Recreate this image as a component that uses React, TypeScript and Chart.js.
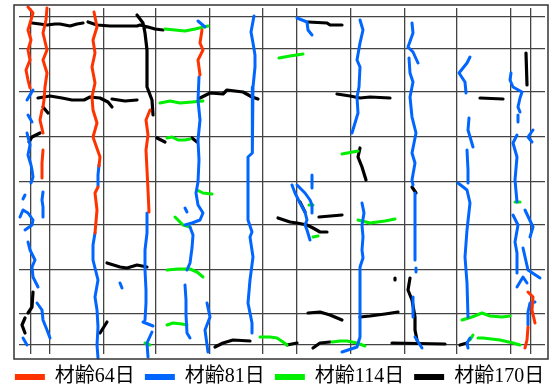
import React, { useEffect, useRef } from "react";
import { Chart, registerables } from "chart.js";

Chart.register(...registerables);

type P = [number, number];

const ages = ["材齢64日", "材齢81日", "材齢114日", "材齢170日"];
const colors = ["#ff3300", "#0066ff", "#00ee00", "#000000"];

const xGrid = [30.7, 50, 104, 156, 210, 263, 297, 351, 405, 457, 511, 531];
const yGrid = [17, 49, 92, 137, 182, 225, 270, 314, 345];

const redCracks: P[][] = [
  [[28, 7], [33, 13], [31, 20], [28, 30], [31, 40], [28, 50], [30, 60], [26, 70], [28, 80], [30, 88]],
  [[47, 8], [46, 20], [43, 33], [47, 50], [43, 60], [47, 73], [45, 87], [44, 100], [43, 107]],
  [[42, 110], [40, 120], [43, 133]],
  [[43, 150], [42, 163], [42, 178]],
  [[94, 12], [97, 27], [93, 40], [95, 53], [92, 67], [95, 83], [92, 97], [93, 110], [97, 123], [93, 137], [100, 157], [99, 166]],
  [[98, 187], [95, 193], [97, 210], [95, 233]],
  [[150, 110], [146, 120], [148, 135], [146, 150], [147, 170], [148, 190], [149, 212]],
  [[202, 30], [200, 43], [203, 50], [198, 60], [200, 75]],
  [[528, 292], [533, 297], [532, 310], [535, 323]],
  [[528, 327], [527, 340], [525, 348]],
];

const blueCracks: P[][] = [
  [[33, 90], [30, 95], [27, 100]],
  [[28, 115], [32, 122]],
  [[27, 133], [30, 145], [28, 155], [31, 165], [32, 170], [33, 177], [31, 183]],
  [[25, 195], [23, 199]],
  [[43, 192], [42, 200], [43, 207], [43, 217]],
  [[20, 217], [23, 210], [28, 213], [33, 220], [32, 225], [25, 230]],
  [[28, 242], [30, 250], [35, 260], [32, 267], [33, 277], [38, 287]],
  [[37, 303], [42, 310], [43, 320], [47, 330], [50, 338]],
  [[23, 338], [27, 345]],
  [[99, 165], [98, 175], [98, 186]],
  [[95, 233], [93, 245], [93, 260], [98, 280], [95, 297], [97, 310], [98, 327], [97, 345], [98, 358]],
  [[120, 283], [122, 288]],
  [[147, 213], [147, 223], [147, 233], [145, 250], [145, 270], [146, 290], [146, 303], [145, 320]],
  [[143, 322], [153, 326]],
  [[152, 332], [147, 343], [148, 357]],
  [[198, 21], [205, 27]],
  [[199, 77], [198, 100], [200, 120], [198, 140], [199, 160], [198, 182], [196, 193], [198, 205], [203, 213], [200, 220], [192, 223], [185, 225]],
  [[185, 208], [187, 212]],
  [[190, 227], [193, 235], [192, 248], [190, 263], [187, 270]],
  [[185, 285], [186, 300], [186, 315], [187, 333], [190, 338]],
  [[207, 303], [210, 317], [205, 330], [208, 352]],
  [[254, 16], [251, 32], [253, 43], [255, 55], [255, 67], [253, 87], [253, 100], [252, 127], [252, 153], [248, 157], [248, 180], [248, 220], [252, 232], [250, 237], [253, 257], [250, 280], [248, 303], [252, 323], [252, 333]],
  [[297, 18], [307, 22], [308, 30], [312, 35]],
  [[360, 20], [363, 30], [360, 43], [357, 60], [360, 67], [359, 87], [357, 97], [358, 113], [352, 133]],
  [[312, 175], [312, 188]],
  [[292, 185], [295, 193], [300, 203], [305, 212], [307, 220], [305, 225], [307, 230], [310, 240]],
  [[297, 185], [305, 193], [310, 200], [312, 205], [312, 213]],
  [[362, 203], [364, 213], [362, 225], [363, 237], [362, 250], [363, 258], [360, 267], [360, 303], [360, 337], [357, 347], [342, 352]],
  [[412, 23], [413, 33], [408, 47], [413, 52], [418, 63]],
  [[409, 58], [410, 73], [413, 82], [410, 97], [412, 117], [416, 133], [412, 153], [415, 163], [412, 180], [413, 185]],
  [[415, 193], [415, 220], [415, 260]],
  [[416, 268], [416, 272]],
  [[413, 297], [413, 317]],
  [[415, 337], [422, 348]],
  [[470, 57], [467, 63], [459, 73], [465, 82], [466, 93]],
  [[469, 118], [468, 130], [473, 147]],
  [[467, 150], [468, 170], [468, 183]],
  [[458, 183], [467, 190], [470, 203], [467, 230], [465, 257], [467, 283], [468, 317]],
  [[511, 73], [510, 80], [513, 87], [522, 92], [520, 98], [518, 107], [520, 112]],
  [[518, 115], [518, 122]],
  [[517, 135], [513, 143], [517, 157], [515, 180], [517, 202]],
  [[533, 130], [528, 137], [532, 142]],
  [[513, 215], [518, 225], [515, 242], [517, 253], [517, 273]],
  [[525, 210], [533, 227], [530, 237]],
  [[523, 248], [528, 270], [540, 278]],
  [[517, 287], [523, 277], [527, 283]],
  [[535, 302], [530, 303], [528, 312], [528, 325]],
  [[468, 348], [467, 343], [470, 338]],
];

const greenCracks: P[][] = [
  [[165, 29], [175, 30], [185, 31], [195, 29], [208, 26]],
  [[160, 103], [170, 101], [180, 103], [192, 102], [203, 101]],
  [[167, 138], [172, 137], [178, 140], [185, 140], [190, 139]],
  [[279, 58], [290, 56], [303, 54]],
  [[342, 154], [358, 151]],
  [[197, 190], [203, 193], [212, 194]],
  [[175, 217], [180, 222], [183, 225], [190, 227]],
  [[167, 270], [178, 269], [190, 269], [197, 272], [203, 277]],
  [[167, 325], [173, 323], [182, 324], [187, 325]],
  [[145, 343], [150, 345]],
  [[309, 205], [313, 205]],
  [[313, 237], [318, 236]],
  [[358, 220], [370, 223], [385, 221], [395, 219]],
  [[260, 337], [270, 337], [277, 338], [283, 342], [287, 345]],
  [[332, 342], [340, 341], [347, 341], [357, 343], [365, 346]],
  [[462, 320], [472, 317], [482, 313], [490, 316], [502, 317], [510, 316]],
  [[473, 335], [470, 340]],
  [[478, 338], [483, 338], [500, 340], [513, 343], [520, 345]],
  [[515, 202], [520, 202]],
];

const blackCracks: P[][] = [
  [[32, 23], [40, 24], [47, 25], [55, 24], [60, 24], [70, 26], [77, 24], [83, 23]],
  [[88, 22], [97, 25], [110, 26], [137, 26], [140, 25], [148, 27], [155, 29], [163, 30]],
  [[137, 15], [143, 23], [145, 33], [147, 50], [147, 70], [147, 87], [152, 100], [153, 115]],
  [[38, 98], [50, 96], [62, 98], [72, 100], [84, 100], [90, 97], [100, 98], [108, 102], [112, 107]],
  [[112, 99], [125, 101], [137, 100]],
  [[43, 107], [48, 113]],
  [[29, 142], [32, 137], [40, 133]],
  [[157, 138], [165, 142]],
  [[200, 98], [210, 93], [223, 94], [227, 90], [243, 92], [252, 97], [258, 99]],
  [[192, 138], [197, 142]],
  [[308, 22], [327, 23], [330, 25], [342, 25]],
  [[337, 94], [350, 96], [360, 98], [370, 97], [390, 98]],
  [[480, 98], [503, 99]],
  [[526, 53], [527, 85]],
  [[360, 148], [358, 157], [362, 167], [366, 180]],
  [[107, 263], [120, 267], [127, 268], [137, 265], [147, 267]],
  [[107, 322], [100, 333]],
  [[33, 292], [32, 307], [28, 313]],
  [[25, 318], [22, 325], [25, 333]],
  [[300, 202], [303, 208], [305, 212]],
  [[278, 218], [290, 222], [297, 223], [307, 225], [313, 228], [320, 232], [327, 232]],
  [[319, 217], [342, 215]],
  [[308, 313], [320, 312], [330, 315], [342, 320]],
  [[360, 317], [370, 316], [385, 314], [398, 312]],
  [[313, 348], [320, 343], [330, 342]],
  [[412, 187], [416, 193]],
  [[410, 278], [408, 290], [412, 300], [415, 317], [415, 330], [417, 340]],
  [[395, 278], [395, 280]],
  [[392, 343], [445, 344]],
  [[460, 345], [467, 343]],
  [[215, 347], [223, 343], [233, 340], [250, 341]],
  [[287, 345], [297, 343]],
];

const allCracks = [redCracks, blueCracks, greenCracks, blackCracks];

function toSeries(cracks: P[][]) {
  const out: { x: number | null; y: number | null }[] = [];
  cracks.forEach((c, i) => {
    if (i > 0) out.push({ x: null, y: null });
    c.forEach(([x, y]) => out.push({ x, y }));
  });
  return out;
}

const FONT = '"Liberation Serif", "Noto Sans CJK JP", serif';

export default function App() {
  const ref = useRef<HTMLCanvasElement | null>(null);
  useEffect(() => {
    if (!ref.current) return;
    const framePlugin = {
      id: "frame",
      beforeLayout(chart: any) {
        const lg = chart.legend;
        if (lg && !lg.__patched) {
          const orig = lg.fit.bind(lg);
          lg.fit = function () {
            orig();
            this.height = 35;
          };
          lg.__patched = true;
        }
      },
      afterLayout(chart: any) {
        const lg = chart.legend;
        if (lg) {
          lg.top += 3;
          lg.bottom += 3;
        }
      },
      afterDraw(chart: any) {
        const { ctx, chartArea: a } = chart;
        ctx.save();
        ctx.strokeStyle = "#333";
        ctx.lineWidth = 1.5;
        ctx.strokeRect(a.left - 5, a.top - 3, a.right - a.left + 8, a.bottom - a.top + 8);
        ctx.restore();
      },
    };
    const chart = new Chart(ref.current, {
      type: "scatter",
      data: {
        datasets: allCracks.map((cr, i) => ({
          label: ages[i],
          data: toSeries(cr) as any,
          showLine: true,
          spanGaps: false,
          borderColor: colors[i],
          backgroundColor: colors[i],
          borderWidth: i === 3 ? 3.2 : 3,
          pointRadius: 0,
          pointHoverRadius: 0,
          borderJoinStyle: "round",
          borderCapStyle: "round",
          clip: 10,
        })),
      },
      options: {
        animation: false,
        responsive: false,
        layout: { padding: { left: 0, right: 0, top: 8, bottom: 0 } },
        scales: {
          x: {
            type: "linear",
            min: 19,
            max: 545,
            afterBuildTicks: (s: any) => {
              s.ticks = xGrid.map((v) => ({ value: v }));
            },
            ticks: { display: false },
            grid: { drawTicks: false, color: "#444", lineWidth: 1.3 },
            border: { display: false },
          },
          y: {
            type: "linear",
            position: "left",
            reverse: true,
            min: 8,
            max: 354,
            afterBuildTicks: (s: any) => {
              s.ticks = yGrid.map((v) => ({ value: v }));
            },
            afterFit: (s: any) => {
              s.width = 19;
            },
            ticks: { display: false },
            grid: { drawTicks: false, color: "#444", lineWidth: 1.3 },
            border: { display: false },
          },
          yRight: {
            type: "linear",
            position: "right",
            min: 0,
            max: 1,
            afterFit: (s: any) => {
              s.width = 14;
            },
            ticks: { display: false },
            grid: { display: false, drawTicks: false },
            border: { display: false },
          },
        },
        plugins: {
          tooltip: { enabled: false },
          legend: {
            position: "bottom",
            labels: {
              boxWidth: 30,
              boxHeight: 6,
              padding: 10,
              color: "#000",
              font: { family: FONT, size: 20 },
              generateLabels: () =>
                ages.map((t, i) => ({
                  text: t,
                  fillStyle: colors[i],
                  strokeStyle: colors[i],
                  lineWidth: 0,
                  hidden: false,
                  datasetIndex: i,
                })),
            },
          },
        },
      },
      plugins: [framePlugin],
    } as any);
    return () => chart.destroy();
  }, []);
  return (
    <div style={{ position: "fixed", left: 0, top: 0, width: 559, height: 389, background: "#fff" }}>
      <canvas ref={ref} width={559} height={389} style={{ width: 559, height: 389 }} />
    </div>
  );
}
